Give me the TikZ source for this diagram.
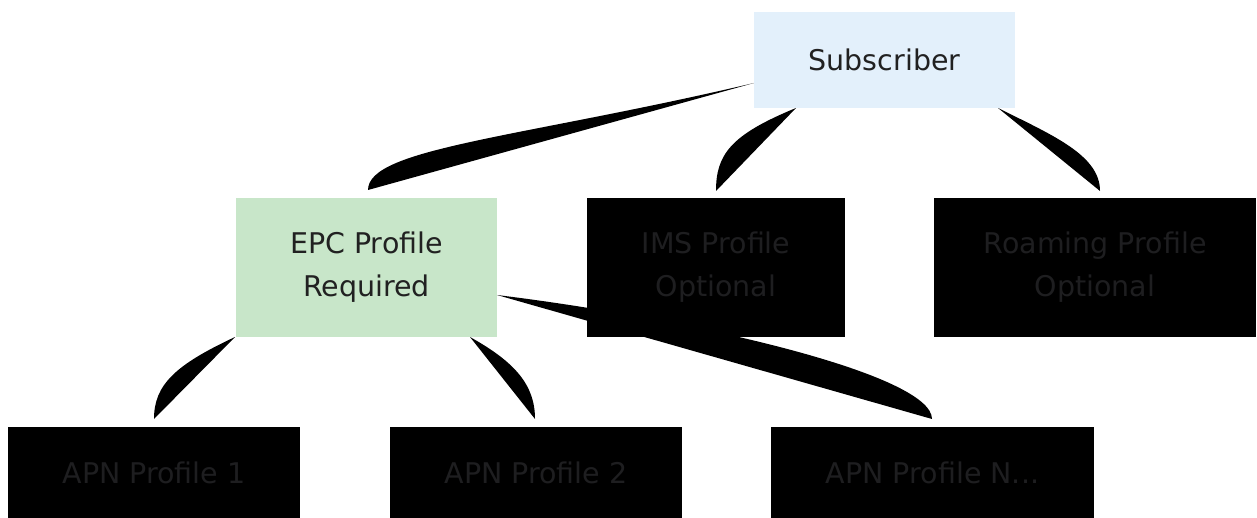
\documentclass[tikz,border=0pt]{standalone}
\usepackage{fontspec}
\setmainfont{DejaVu Sans}
\definecolor{subfill}{HTML}{E3F0FB}
\definecolor{epcfill}{HTML}{C8E6C9}
\definecolor{txt}{HTML}{212121}
\definecolor{dtxt}{HTML}{1E1E20}
\begin{document}
\begin{tikzpicture}[x=1pt,y=-1pt,
  box/.style={draw=none,rectangle,inner sep=0pt,align=center,text=txt,
    font=\fontsize{28.5}{43}\selectfont},
  darkbox/.style={box,fill=black,text=dtxt},
  wedge/.style={fill=black,draw=none}]
\useasboundingbox (0,0) rectangle (1257,518);
% connector end coordinates
\coordinate (s1) at (754,83);
\coordinate (e1) at (368,190);
\coordinate (s2) at (796,108);
\coordinate (e2) at (716,191);
\coordinate (s3) at (998,108);
\coordinate (e3) at (1100,191);
\coordinate (s4) at (235,337);
\coordinate (e4) at (154,419);
\coordinate (s5) at (470,337);
\coordinate (e5) at (535,419);
\coordinate (s6) at (497,295);
\coordinate (e6) at (932,419);
% connectors (filled wedges)
\fill[wedge] (s1) .. controls (520,138) and (368,148) .. (e1) -- cycle;
\fill[wedge] (s2) .. controls (730,135) and (716,155) .. (e2) -- cycle;
\fill[wedge] (s3) .. controls (1052,135) and (1100,155) .. (e3) -- cycle;
\fill[wedge] (s4) .. controls (175,365) and (154,385) .. (e4) -- cycle;
\fill[wedge] (s5) .. controls (515,362) and (535,385) .. (e5) -- cycle;
\fill[wedge] (s6) .. controls (700,320) and (932,375) .. (e6) -- cycle;
% nodes
\node[box,fill=subfill,minimum width=261pt,minimum height=96pt] (sub) at (884.5,60) {Subscriber};
\node[box,fill=epcfill,minimum width=261pt,minimum height=139pt] (epc) at (366.5,267.5) {EPC Profile\\Required};
\node[darkbox,minimum width=258pt,minimum height=139pt] (ims) at (716,267.5) {IMS Profile\\Optional};
\node[darkbox,minimum width=322pt,minimum height=139pt] (roam) at (1095,267.5) {Roaming Profile\\Optional};
\node[darkbox,minimum width=292pt,minimum height=91pt] (apn1) at (154,472.5) {APN Profile 1};
\node[darkbox,minimum width=292pt,minimum height=91pt] (apn2) at (536,472.5) {APN Profile 2};
\node[darkbox,minimum width=323pt,minimum height=91pt] (apnn) at (932.5,472.5) {APN Profile N...};
\end{tikzpicture}
\end{document}
